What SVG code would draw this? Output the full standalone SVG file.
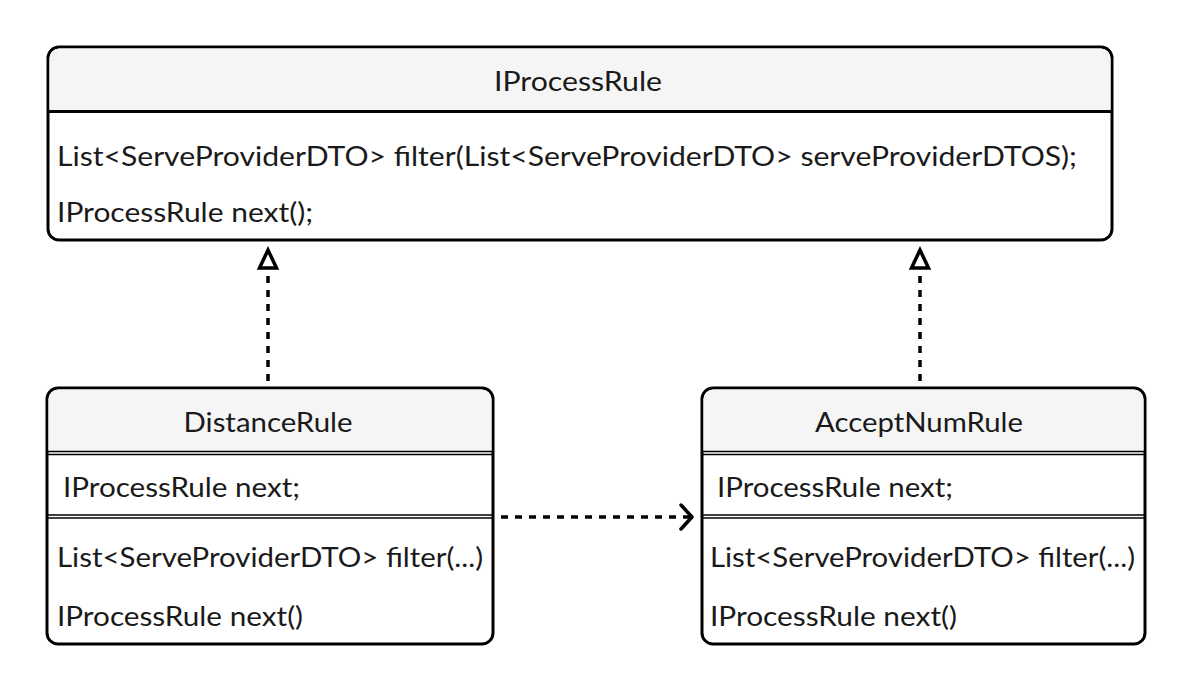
<svg xmlns="http://www.w3.org/2000/svg" width="1194" height="694" viewBox="0 0 1194 694">
<style>
.box{fill:#fff;stroke:#000;stroke-width:3}
.hdr{fill:#f5f5f5}
.sep{stroke:#000;stroke-width:3;fill:none}
.dsep{stroke:#000;stroke-width:1.5;fill:none}
text{font-family:Lato,"Noto Sans","Liberation Sans",sans-serif;font-size:27px;fill:#1a1a1a}
.c{text-anchor:middle}
.dash{stroke:#000;stroke-width:3.5;fill:none;stroke-dasharray:7 7}
</style>
<g id="IProcessRule">
<rect class="box" x="48" y="47" width="1064" height="193" rx="11"/>
<path class="hdr" d="M59.5 48.5 H1100.5 A10 10 0 0 1 1110.5 58.5 V110 H49.5 V58.5 A10 10 0 0 1 59.5 48.5 Z"/>
<line class="sep" x1="48" y1="111.5" x2="1112" y2="111.5"/>
<text class="c" x="578" y="91" textLength="168" lengthAdjust="spacingAndGlyphs">IProcessRule</text>
<text x="57" y="166" textLength="1020" lengthAdjust="spacingAndGlyphs">List&lt;ServeProviderDTO&gt; filter(List&lt;ServeProviderDTO&gt; serveProviderDTOS);</text>
<text x="57" y="222" textLength="256" lengthAdjust="spacingAndGlyphs">IProcessRule next();</text>
</g>
<g id="DistanceRule">
<rect class="box" x="47" y="388" width="446" height="256" rx="11"/>
<path class="hdr" d="M58.5 389.5 H481.5 A10 10 0 0 1 491.5 399.5 V451 H48.5 V399.5 A10 10 0 0 1 58.5 389.5 Z"/>
<line class="dsep" x1="47" y1="451.5" x2="493" y2="451.5"/>
<line class="dsep" x1="47" y1="454.5" x2="493" y2="454.5"/>
<line class="dsep" x1="47" y1="515" x2="493" y2="515"/>
<line class="dsep" x1="47" y1="518" x2="493" y2="518"/>
<text class="c" x="268" y="432" textLength="169" lengthAdjust="spacingAndGlyphs">DistanceRule</text>
<text x="63" y="497" textLength="237" lengthAdjust="spacingAndGlyphs">IProcessRule next;</text>
<text x="57" y="567" textLength="426" lengthAdjust="spacingAndGlyphs">List&lt;ServeProviderDTO&gt; filter(...)</text>
<text x="57" y="626" textLength="246" lengthAdjust="spacingAndGlyphs">IProcessRule next()</text>
</g>
<g id="AcceptNumRule">
<rect class="box" x="702" y="388" width="443" height="256" rx="11"/>
<path class="hdr" d="M713.5 389.5 H1133.5 A10 10 0 0 1 1143.5 399.5 V451 H703.5 V399.5 A10 10 0 0 1 713.5 389.5 Z"/>
<line class="dsep" x1="702" y1="451.5" x2="1145" y2="451.5"/>
<line class="dsep" x1="702" y1="454.5" x2="1145" y2="454.5"/>
<line class="dsep" x1="702" y1="515" x2="1145" y2="515"/>
<line class="dsep" x1="702" y1="518" x2="1145" y2="518"/>
<text class="c" x="919" y="432" textLength="208" lengthAdjust="spacingAndGlyphs">AcceptNumRule</text>
<text x="717" y="497" textLength="236" lengthAdjust="spacingAndGlyphs">IProcessRule next;</text>
<text x="710" y="567" textLength="425" lengthAdjust="spacingAndGlyphs">List&lt;ServeProviderDTO&gt; filter(...)</text>
<text x="710" y="626" textLength="247" lengthAdjust="spacingAndGlyphs">IProcessRule next()</text>
</g>
<g id="connectors">
<line class="dash" x1="268" y1="381" x2="268" y2="274"/>
<polygon points="268,250 259.5,268 276.5,268" fill="#fff" stroke="#000" stroke-width="3.5" stroke-linejoin="miter"/>
<line class="dash" x1="920" y1="381" x2="920" y2="274"/>
<polygon points="920,250 911.5,268 928.5,268" fill="#fff" stroke="#000" stroke-width="3.5" stroke-linejoin="miter"/>
<line class="dash" x1="501" y1="517" x2="690" y2="517"/>
<polyline points="681,505 692,517 681,529" fill="none" stroke="#000" stroke-width="3.5" stroke-linecap="round" stroke-linejoin="round"/>
</g>
</svg>
